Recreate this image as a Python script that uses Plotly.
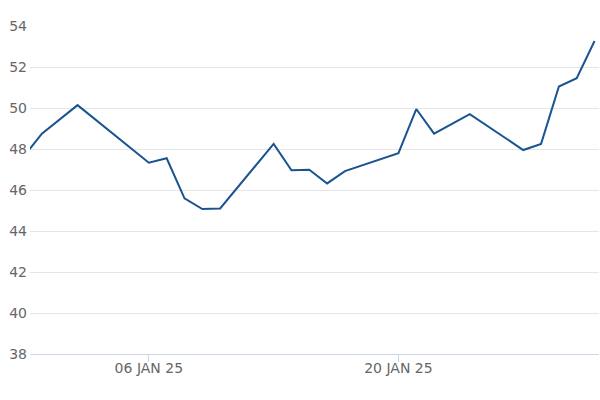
import plotly.graph_objects as go

dates = ["2024-12-30", "2024-12-31", "2025-01-02", "2025-01-06", "2025-01-07",
         "2025-01-08", "2025-01-09", "2025-01-10", "2025-01-13", "2025-01-14",
         "2025-01-15", "2025-01-16", "2025-01-17", "2025-01-20", "2025-01-21",
         "2025-01-22", "2025-01-24", "2025-01-27", "2025-01-28", "2025-01-29",
         "2025-01-30", "2025-01-31"]
values = [47.65, 48.75, 50.14, 47.33, 47.55,
          45.59, 45.07, 45.10, 48.25, 46.96,
          46.99, 46.32, 46.92, 47.80, 49.95,
          48.75, 49.70, 47.95, 48.25, 51.05,
          51.45, 53.27]

x_tick_vals = ["2025-01-06", "2025-01-20"]
x_tick_text = ["06 JAN 25", "20 JAN 25"]
y_tick_vals = [38, 40, 42, 44, 46, 48, 50, 52, 54]

fig = go.Figure()
fig.add_trace(go.Scatter(
    x=dates, y=values, mode="lines",
    line=dict(color="#1a5490", width=2),
    hoverinfo="x+y", showlegend=False,
))

fig.update_layout(
    template="none",
    width=600, height=400,
    margin=dict(l=30, r=1, t=26, b=46, pad=0),
    paper_bgcolor="white", plot_bgcolor="white",
    font=dict(family="DejaVu Sans, Arial, sans-serif", size=14, color="#666666"),
    xaxis=dict(
        range=["2024-12-30 08:00", "2025-01-31 06:00"],
        tickvals=x_tick_vals, ticktext=x_tick_text,
        showgrid=False, zeroline=False,
        showline=True, linecolor="#ccd6eb", linewidth=1,
        ticks="outside", ticklen=7, tickcolor="#ccd6eb", tickwidth=1,
        ticklabelstandoff=-6,
        tickfont=dict(size=14, color="#666666"),
        automargin=False, fixedrange=True,
    ),
    yaxis=dict(
        range=[38, 54], tickvals=y_tick_vals,
        showgrid=True, gridcolor="#e6e6e6", gridwidth=1,
        zeroline=False, showline=False,
        ticks="", ticklabelstandoff=2,
        tickfont=dict(size=14, color="#666666"),
        automargin=False, fixedrange=True,
    ),
)

fig.write_html(
    "out.html",
    config={"displayModeBar": False},
    post_script="document.body.style.margin='0';document.body.style.overflow='hidden';",
)
